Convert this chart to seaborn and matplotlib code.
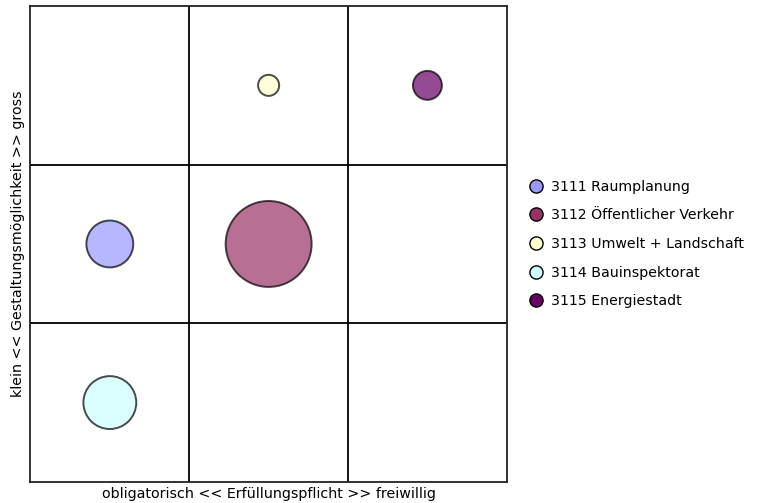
import matplotlib
matplotlib.use("Agg")
import matplotlib.pyplot as plt
from matplotlib.lines import Line2D
import pandas as pd
import seaborn as sns

# data: task fields placed in the 3x3 matrix
labels = ["3111 Raumplanung", "3112 Öffentlicher Verkehr", "3113 Umwelt + Landschaft",
          "3114 Bauinspektorat", "3115 Energiestadt"]
duty = [0.5, 1.5, 1.5, 0.5, 2.5]       # obligatorisch (0) .. freiwillig (3)
scope = [1.5, 1.5, 2.5, 0.5, 2.5]      # klein (0) .. gross (3)
weight = [1140, 3830, 230, 1450, 435]  # bubble area
colors = ["#9999ff", "#993366", "#ffffcc", "#ccffff", "#660066"]

df = pd.DataFrame({"label": labels, "duty": duty, "scope": scope, "weight": weight})

sns.set_theme(style="white")
plt.rcParams['font.family'] = ['DejaVu Sans']
plt.rcParams['text.color'] = 'black'
plt.rcParams['axes.labelcolor'] = 'black'

fig = plt.figure(figsize=(7.61, 5.03), dpi=100)
ax = fig.add_axes([0.040, 0.042, 0.626, 0.946])

sns.scatterplot(data=df, x="duty", y="scope", hue="label", palette=colors,
                size="weight", sizes=(min(weight), max(weight)),
                alpha=0.7, edgecolor="black", linewidth=1.4, legend=False, ax=ax)

for v in [1, 2]:
    ax.axvline(v, color="black", linewidth=1.3)
    ax.axhline(v, color="black", linewidth=1.3)

ax.set_xlim(0, 3)
ax.set_ylim(0, 3)
ax.set_xticks([])
ax.set_yticks([])
for sp in ax.spines.values():
    sp.set_color("#222222")
    sp.set_linewidth(1.3)

ax.set_xlabel("obligatorisch << Erfüllungspflicht >> freiwillig", fontsize=10.3, labelpad=3.5)
ax.set_ylabel("klein << Gestaltungsmöglichkeit >> gross", fontsize=10.3, labelpad=4)

handles = [Line2D([0], [0], marker='o', linestyle='', markersize=9.5,
                  markerfacecolor=c, markeredgecolor='black', markeredgewidth=1.0)
           for c in colors]
ax.legend(handles, labels, loc='center left', bbox_to_anchor=(1.02, 0.5),
          frameon=False, fontsize=10.2, labelspacing=1.03, handletextpad=0.55,
          handlelength=1.0)

fig.savefig("out.png", dpi=100)
